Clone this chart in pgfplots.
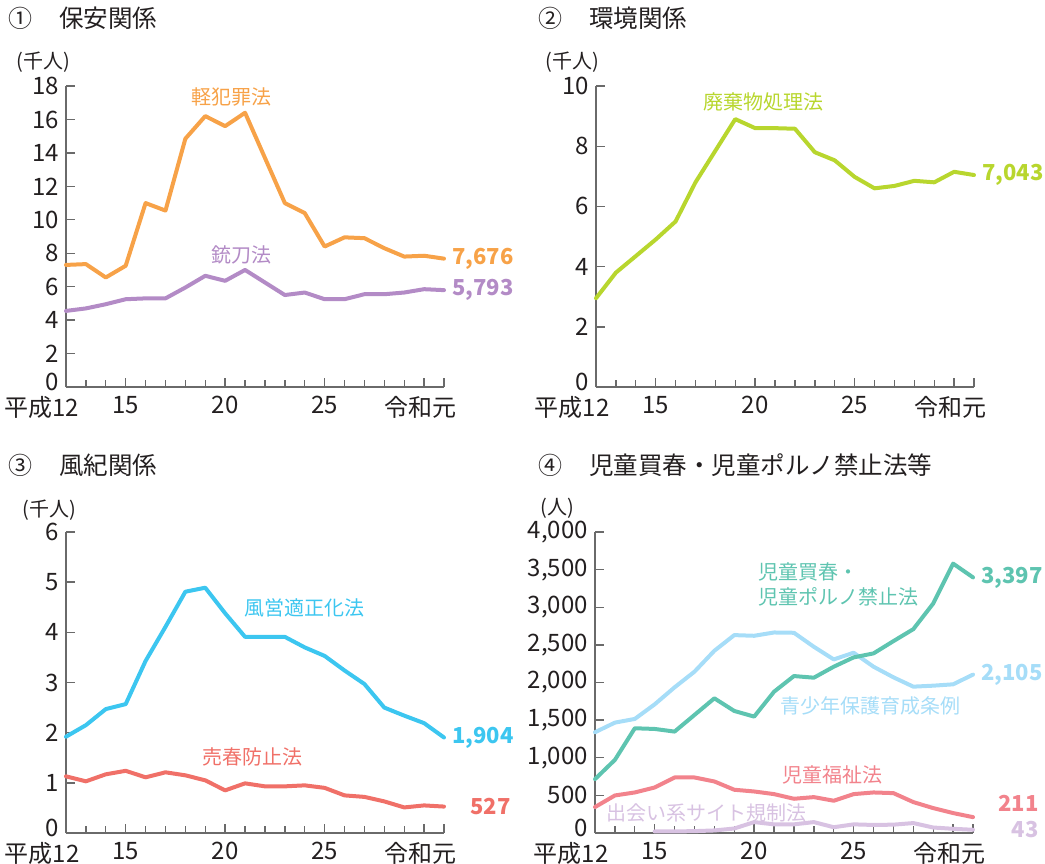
\documentclass[border=0pt]{standalone}
\usepackage{fontspec}
\setmainfont{Noto Sans CJK JP}
\usepackage{pgfplots}
\pgfplotsset{compat=1.18}
\usepackage{pgfplotstable}

\definecolor{cOrange}{HTML}{F7A248}
\definecolor{cPurple}{HTML}{B38BC6}
\definecolor{cLime}{HTML}{B8D62E}
\definecolor{cBlue}{HTML}{3CC6F0}
\definecolor{cSalmon}{HTML}{F07068}
\definecolor{cTeal}{HTML}{5EC4B0}
\definecolor{cLBlue}{HTML}{A6DDF8}
\definecolor{cPink}{HTML}{F2838C}
\definecolor{cLav}{HTML}{D8C2E2}
\definecolor{axisgray}{HTML}{6A6A6A}
\definecolor{txt}{HTML}{231F20}

\pgfplotstableread{
year kei jyu
12 7.30 4.55
13 7.35 4.70
14 6.55 4.95
15 7.25 5.25
16 11.00 5.30
17 10.55 5.30
18 14.85 5.95
19 16.20 6.65
20 15.60 6.35
21 16.40 7.00
22 13.70 6.25
23 11.00 5.50
24 10.40 5.65
25 8.40 5.25
26 8.95 5.25
27 8.90 5.55
28 8.30 5.55
29 7.80 5.65
30 7.85 5.85
31 7.676 5.793
}\tabA

\pgfplotstableread{
year hai
12 2.95
13 3.80
14 4.35
15 4.90
16 5.50
17 6.80
18 7.85
19 8.90
20 8.60
21 8.60
22 8.58
23 7.80
24 7.53
25 6.98
26 6.60
27 6.68
28 6.85
29 6.80
30 7.15
31 7.043
}\tabB

\pgfplotstableread{
year fu bai
12 1.92 1.13
13 2.15 1.03
14 2.47 1.17
15 2.57 1.24
16 3.43 1.11
17 4.11 1.21
18 4.81 1.15
19 4.89 1.05
20 4.38 0.85
21 3.91 0.99
22 3.91 0.93
23 3.91 0.93
24 3.70 0.95
25 3.53 0.90
26 3.24 0.75
27 2.97 0.72
28 2.50 0.63
29 2.34 0.51
30 2.19 0.55
31 1.904 0.527
}\tabC

\pgfplotstableread{
year jp sei fuku
12 716 1339 345
13 972 1467 499
14 1392 1516 539
15 1383 1710 605
16 1348 1936 738
17 1569 2144 738
18 1790 2422 685
19 1622 2630 575
20 1547 2621 552
21 1878 2665 517
22 2086 2661 455
23 2064 2475 477
24 2210 2307 429
25 2334 2396 517
26 2387 2210 539
27 2550 2069 530
28 2709 1945 411
29 3050 1958 331
30 3580 1976 265
31 3397 2105 211
}\tabD

\pgfplotstableread{
year dea
15 21
16 21
17 25
18 34
19 60
20 145
21 115
22 115
23 145
24 77
25 115
26 107
27 111
28 132
29 73
30 56
31 43
}\tabE

\pgfplotsset{
  panel/.style={
    scale only axis, width=189pt, height=150.5pt,
    xmin=12, xmax=31, ymin=0,
    axis lines*=left,
    axis line style={draw=axisgray, line width=0.7pt},
    every tick/.style={draw=axisgray, line width=0.7pt},
    tick align=inside,
    major tick length=4.5pt, minor tick length=3.3pt,
    xtick={12,15,20,25,30,31},
    xticklabels={\llap{平成}12,15,20,25,,\llap{令和}元},
    minor xtick={13,14,16,17,18,19,21,22,23,24,26,27,28,29},
    tick label style={font=\fontsize{12}{13}\selectfont, text=txt},
    xticklabel style={yshift=-1pt},
    extra y ticks={0},
    extra y tick style={yticklabel style={yshift=2.5pt}},
    /pgf/number format/assume math mode=true,
    clip=false,
    every axis plot/.append style={line width=2pt, line join=round, line cap=round},
  },
}
\tikzset{
  lab/.style={font=\fontsize{10}{12.5}\selectfont, inner sep=0pt},
  endlab/.style={font=\fontsize{11}{11}\selectfont\bfseries, inner sep=0pt},
}

\begin{document}
\begin{tikzpicture}
\useasboundingbox (0,0) rectangle (522.5pt,-431.5pt);

% titles
\begin{scope}[every node/.style={text=txt, inner sep=0pt}]
\node[font=\fontsize{12}{12}\selectfont] at (10.5pt,-9pt) {①};
\node[font=\fontsize{12.25}{12}\selectfont, anchor=west] at (29.5pt,-9pt) {保安関係};
\node[font=\fontsize{12}{12}\selectfont] at (275pt,-9pt) {②};
\node[font=\fontsize{12.25}{12}\selectfont, anchor=west] at (294.5pt,-9pt) {環境関係};
\node[font=\fontsize{12}{12}\selectfont] at (10.5pt,-232.5pt) {③};
\node[font=\fontsize{12.25}{12}\selectfont, anchor=west] at (29.5pt,-232.5pt) {風紀関係};
\node[font=\fontsize{12}{12}\selectfont] at (275pt,-232.5pt) {④};
\node[font=\fontsize{12.25}{12}\selectfont, anchor=west] at (294.5pt,-232.5pt) {児童買春・児童ポルノ禁止法等};
\node[font=\fontsize{10}{12}\selectfont, anchor=west] at (8pt,-31pt) {(千人)};
\node[font=\fontsize{10}{12}\selectfont, anchor=west] at (272.5pt,-31pt) {(千人)};
\node[font=\fontsize{10}{12}\selectfont, anchor=west] at (11pt,-255pt) {(千人)};
\node[font=\fontsize{10}{12}\selectfont, anchor=west] at (270pt,-254pt) {(人)};
\end{scope}

% Panel 1
\begin{axis}[panel, at={(33pt,-193.5pt)}, anchor=south west,
  ymax=18, ytick={2,4,...,18}]
\addplot[cPurple] table[x=year, y=jyu] {\tabA};
\addplot[cOrange] table[x=year, y=kei] {\tabA};
\node[lab, text=cOrange] at (axis cs:20.34,17.34) {軽犯罪法};
\node[lab, text=cPurple] at (axis cs:20.84,7.9) {銃刀法};
\node[endlab, text=cOrange, anchor=west, xshift=4pt] at (axis cs:31,7.676) {7,676};
\node[endlab, text=cPurple, anchor=west, xshift=4pt] at (axis cs:31,5.793) {5,793};
\end{axis}

% Panel 2
\begin{axis}[panel, at={(298pt,-193.5pt)}, anchor=south west,
  ymax=10, ytick={2,4,...,10}]
\addplot[cLime] table[x=year, y=hai] {\tabB};
\node[lab, text=cLime] at (axis cs:20.4,9.47) {廃棄物処理法};
\node[endlab, text=cLime, anchor=west, xshift=4pt] at (axis cs:31,7.043) {7,043};
\end{axis}

% Panel 3
\begin{axis}[panel, at={(33pt,-416.5pt)}, anchor=south west,
  ymax=6, ytick={1,2,...,6}]
\addplot[cSalmon] table[x=year, y=bai] {\tabC};
\addplot[cBlue] table[x=year, y=fu] {\tabC};
\node[lab, text=cBlue] at (axis cs:24.0,4.48) {風営適正化法};
\node[lab, text=cSalmon] at (axis cs:21.35,1.51) {売春防止法};
\node[endlab, text=cBlue, anchor=west, xshift=4pt] at (axis cs:31,1.904) {1,904};
\node[endlab, text=cSalmon, anchor=east, xshift=33.5pt] at (axis cs:31,0.527) {527};
\end{axis}

% Panel 4
\begin{axis}[panel, at={(297.5pt,-416.5pt)}, anchor=south west,
  ymax=4000, ytick={500,1000,...,4000}]
\addplot[cLav] table[x=year, y=dea] {\tabE};
\addplot[cPink] table[x=year, y=fuku] {\tabD};
\addplot[cLBlue] table[x=year, y=sei] {\tabD};
\addplot[cTeal] table[x=year, y=jp] {\tabD};
\node[lab, text=cTeal, anchor=west, align=left] at (axis cs:20.19,3302) {児童買春・\\児童ポルノ禁止法};
\node[lab, text=cLBlue, anchor=west] at (axis cs:21.3,1688) {青少年保護育成条例};
\node[lab, text=cPink, anchor=west] at (axis cs:21.4,771) {児童福祉法};
\node[lab, text=cLav, anchor=west] at (axis cs:12.55,266) {出会い系サイト規制法};
\node[endlab, text=cTeal, anchor=west, xshift=4pt] at (axis cs:31,3397) {3,397};
\node[endlab, text=cLBlue, anchor=west, xshift=4pt] at (axis cs:31,2105) {2,105};
\node[endlab, text=cPink, anchor=east, xshift=33pt] at (axis cs:31,400) {211};
\node[endlab, text=cLav, anchor=east, xshift=33pt] at (axis cs:31,40) {43};
\end{axis}
\end{tikzpicture}
\end{document}
